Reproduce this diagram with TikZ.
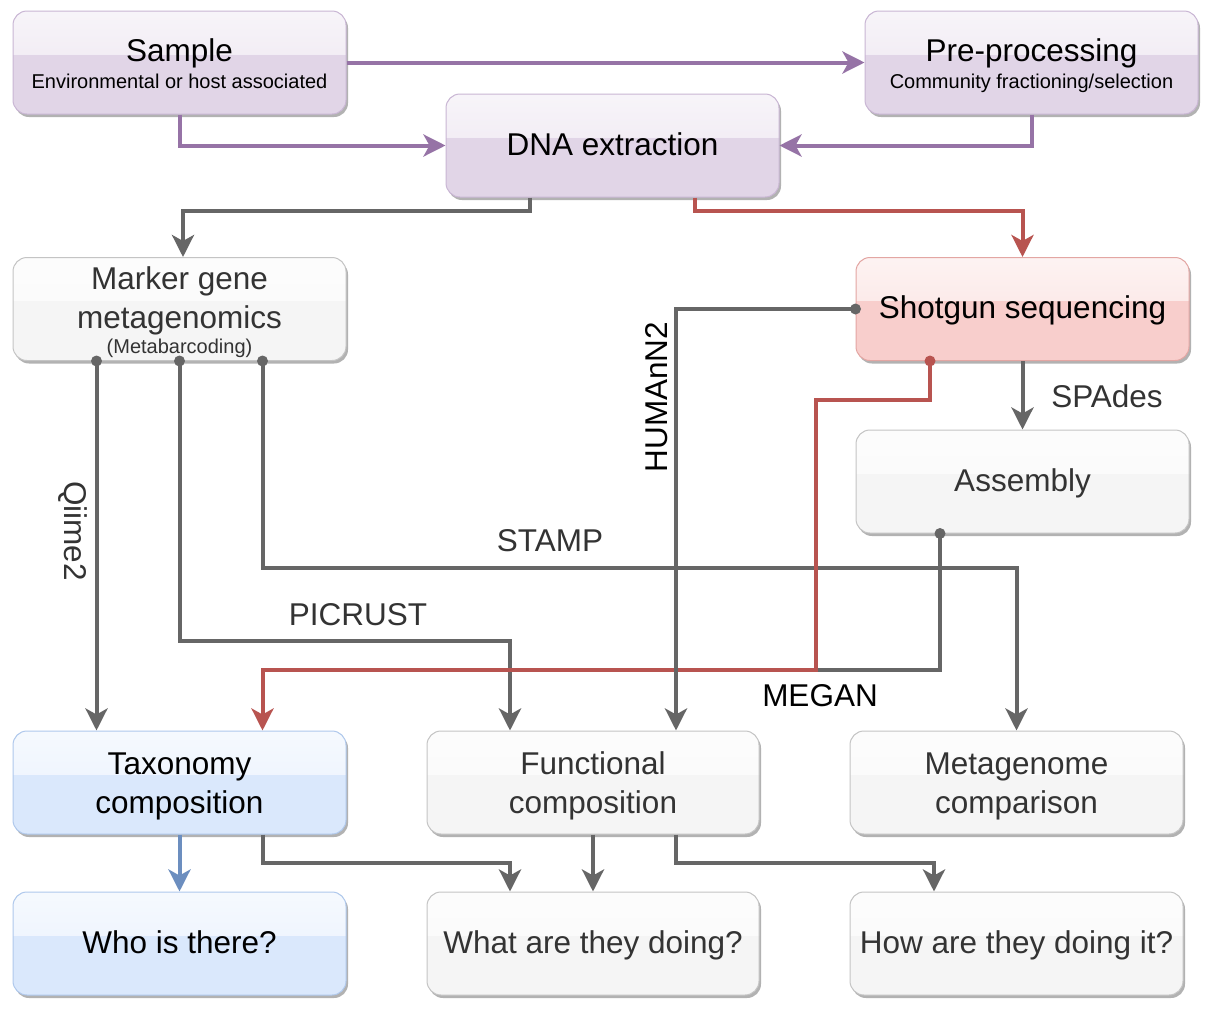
\documentclass[tikz,border=0pt]{standalone}
\usepackage{fontspec}
\setmainfont{Liberation Sans}
\usetikzlibrary{arrows.meta,shadows,calc}
\definecolor{purF}{HTML}{E1D5E7}
\definecolor{purL}{HTML}{9673A6}
\definecolor{purB}{HTML}{C9B6D4}
\definecolor{gryF}{HTML}{F5F5F5}
\definecolor{gryL}{HTML}{666666}
\definecolor{gryB}{HTML}{C4C4C4}
\definecolor{redF}{HTML}{F8CECC}
\definecolor{redL}{HTML}{B85450}
\definecolor{redB}{HTML}{E3A6A3}
\definecolor{bluF}{HTML}{DAE8FC}
\definecolor{bluL}{HTML}{6C8EBF}
\definecolor{bluB}{HTML}{AFC8EC}
\definecolor{txtD}{HTML}{333333}
\newcommand\fbig{\fontsize{31.5}{39}\selectfont}
\newcommand\fsmall{\fontsize{20}{24}\selectfont}
\newcommand\tsA{\rule{0pt}{26.7pt}}
\newcommand\tsB{\rule{0pt}{29pt}}
\newcommand\tsC{\rule{0pt}{30pt}}
\newcommand\bsA{\rule[-7pt]{0pt}{0pt}}
\newcommand\bsB{\rule[-4.5pt]{0pt}{0pt}}
\tikzset{
  card/.style n args={3}{rectangle, rounded corners=14pt, minimum width=333pt,
    minimum height=103pt, inner sep=0pt, fill=#1, draw=#2, line width=1pt,
    text=#3, font=\fbig, align=center,
    drop shadow={shadow xshift=2pt, shadow yshift=-3pt, opacity=0.3, fill=black},
    path picture={\shade[sharp corners, top color=white!75!#1, bottom color=white!35!#1]
      (path picture bounding box.north west) rectangle
      ($(path picture bounding box.north east)!0.42!(path picture bounding box.south east)$);}},
  purcard/.style={card={purF}{purB}{black}},
  grycard/.style={card={gryF}{gryB}{txtD}},
  redcard/.style={card={redF}{redB}{black}},
  blucard/.style={card={bluF}{bluB}{black}},
  conn/.style={draw=#1, line width=4pt, -{Stealth[length=22pt,width=22pt,inset=6pt]}},
  plain/.style={draw=#1, line width=4pt},
  lab/.style={font=\fbig, text=txtD, inner sep=0pt},
}
\begin{document}
\begin{tikzpicture}[x=1pt,y=-1pt]
\useasboundingbox[fill=white] (0,0) rectangle (1211,1021);

% boxes
\node[purcard] (sample) at (179.5,62.5) {\tsB Sample\\[-12.2pt]{\fsmall Environmental or host associated\bsB}};
\node[purcard] (pre) at (1031.5,62.5) {\tsB Pre-processing\\[-12.2pt]{\fsmall Community fractioning/selection\bsB}};
\node[purcard] (dna) at (612.5,145.5) {\tsA DNA extraction\bsA};
\node[grycard] (marker) at (179.5,309) {\tsC Marker gene\\metagenomics\\[-14pt]{\fsmall (Metabarcoding)}};
\node[redcard] (shot) at (1022.5,309) {\tsA Shotgun sequencing\bsA};
\node[grycard] (asm) at (1022.5,481.5) {\tsA Assembly\bsA};
\node[blucard] (tax) at (179.5,782.5) {\tsB Taxonomy\\composition\bsA};
\node[grycard, minimum width=332pt] (func) at (593,782.5) {\tsB Functional\\composition\bsA};
\node[grycard] (meta) at (1016.5,782.5) {\tsB Metagenome\\comparison\bsA};
\node[blucard] (who) at (179.5,943.5) {\tsA Who is there?\bsA};
\node[grycard, minimum width=332pt] (what) at (593,943.5) {\tsA What are they doing?\bsA};
\node[grycard] (how) at (1016.5,943.5) {\tsA How are they doing it?\bsA};

% purple connectors
\draw[conn=purL] (sample.east) -- (pre.west);
\draw[conn=purL] (sample.south) |- (dna.west);
\draw[conn=purL] (pre.south) |- (dna.east);

% from DNA extraction
\draw[conn=gryL] ([xshift=-82.5pt]dna.south) -- ++(0,13) -| ([xshift=3.5pt]marker.north);
\draw[conn=redL] ([xshift=82.5pt]dna.south) -- ++(0,13) -| (shot.north);

% from marker gene
\draw[conn=gryL] ([xshift=-83pt]marker.south) -- ([xshift=-83pt]tax.north);
\draw[conn=gryL] (marker.south) -- ++(0,279.5) -| ([xshift=-83pt]func.north);
\draw[conn=gryL] ([xshift=83pt]marker.south) -- ++(0,206.5) -| (meta.north);

% from shotgun / assembly
\draw[plain=gryL] ([xshift=-82.5pt]asm.south) |- (816,670);
\draw[conn=redL] ([xshift=-92.5pt]shot.south) |- (816,400) -- (816,670) -| ([xshift=83pt]tax.north);
\draw[conn=gryL] (shot.south) -- (asm.north);
\draw[conn=gryL] (shot.west) -| ([xshift=83pt]func.north);

% bottom row
\draw[conn=bluL] (tax.south) -- (who.north);
\draw[conn=gryL] ([xshift=83pt]tax.south) -- ++(0,28) -| ([xshift=-83pt]what.north);
\draw[conn=gryL] (func.south) -- (what.north);
\draw[conn=gryL] ([xshift=83pt]func.south) -- ++(0,28) -| ([xshift=-82.5pt]how.north);

% start dots
\fill[gryL] ([xshift=-83pt]marker.south) circle (5.5pt);
\fill[gryL] (marker.south) circle (5.5pt);
\fill[gryL] ([xshift=83pt]marker.south) circle (5.5pt);
\fill[gryL] (shot.west) circle (5.5pt);
\fill[redL] ([xshift=-92.5pt]shot.south) circle (5.5pt);
\fill[gryL] ([xshift=-82.5pt]asm.south) circle (5.5pt);

% labels
\node[lab, rotate=-90] (lqiime) at (73,531) {Qiime2};
\node[lab, text=black, rotate=90] (lhumann) at (657,397) {HUMAnN2};
\node[lab] (lstamp) at (550,541) {STAMP};
\node[lab] (lpicrust) at (358,615) {PICRUST};
\node[lab] (lspades) at (1107,396) {SPAdes};
\node[lab, text=black] (lmegan) at (820,696) {MEGAN};
\end{tikzpicture}
\end{document}
